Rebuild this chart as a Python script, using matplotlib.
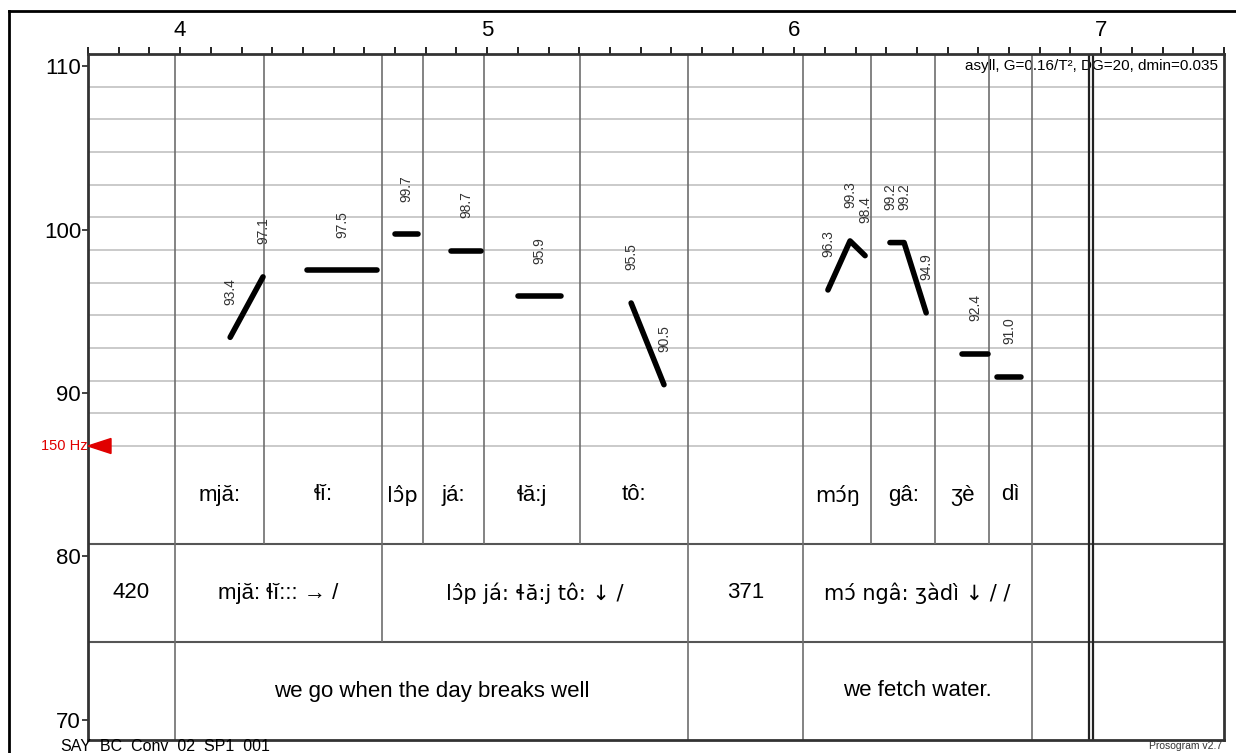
import unicodedata

import matplotlib
matplotlib.use("Agg")
import matplotlib.pyplot as plt
import numpy as np
from matplotlib.lines import Line2D
from matplotlib.patches import Polygon

plt.rcParams["font.family"] = ["Liberation Sans", "DejaVu Sans"]

# reference: 150 Hz in semitones re 1 Hz
ref_st = 12 * np.log2(150)

# syllable tier (boundaries in s, one text per interval)
syl_times = [3.983, 4.273, 4.658, 4.791, 4.990, 5.303, 5.654, 6.029, 6.251, 6.459, 6.635, 6.775]
syl_texts = ["mjă:", "ɬĭ:", "lɔ̂p", "já:", "ɬă:j", "tô:", "", "mɔ́ŋ", "gâ:", "ʒè", "dì"]

# phrase tier
phrase_times = [3.7, 3.983, 4.658, 5.654, 6.029, 6.775]
phrase_texts = ["420", "mjă: ɬĭ::: → /", "lɔ̂p já: ɬă:j tô: ↓ /", "371", "mɔ́ ngâ: ʒàdì ↓ / /"]

# translation tier
trans_times = [3.7, 3.983, 5.654, 6.029, 6.775]
trans_texts = ["", "we go when the day breaks well", "", "we fetch water."]

# end of signal (double line)
end_marks = [6.961, 6.974]

# stylized pitch contours: node times (s) and values (ST)
contour_t = [
    [4.163, 4.270],
    [4.413, 4.641],
    [4.700, 4.775],
    [4.882, 4.980],
    [5.101, 5.241],
    [5.469, 5.576],
    [6.110, 6.182, 6.231],
    [6.312, 6.358, 6.430],
    [6.547, 6.632],
    [6.661, 6.739],
]
contour_st = [
    [93.4, 97.1],
    [97.5, 97.5],
    [99.7, 99.7],
    [98.7, 98.7],
    [95.9, 95.9],
    [95.5, 90.5],
    [96.3, 99.3, 98.4],
    [99.2, 99.2, 94.9],
    [92.4, 92.4],
    [91.0, 91.0],
]


def tier_text(ax, x, y, txt):
    # combining accents only sit right in DejaVu (no mark positioning in Liberation)
    if any(unicodedata.combining(c) for c in txt):
        ax.text(x, y, txt, ha="center", va="center", fontsize=15, family=["DejaVu Sans"])
    else:
        ax.text(x, y, txt, ha="center", va="center", fontsize=16)


W, H = 1236, 753
fig = plt.figure(figsize=(W / 100, H / 100), dpi=100)
ax = fig.add_axes([88 / W, 1 - 740 / H, (1224 - 88) / W, (740 - 54) / H])
x0, x1 = 3.7, 7.4
y0, y1 = ref_st - 18, ref_st + 24
ax.set_xlim(x0, x1)
ax.set_ylim(y0, y1)

# horizontal grid every 2 ST above the 150 Hz line
for k in range(13):
    ax.axhline(ref_st + 2 * k, color="#c6c6c6", lw=1.3, zorder=1)
ax.axhline(ref_st - 6, color="#555555", lw=1.5, zorder=2)
ax.axhline(ref_st - 12, color="#555555", lw=1.5, zorder=2)

vcol = "#6e6e6e"
ax.vlines(syl_times, ref_st - 6, y1, color=vcol, lw=1.2, zorder=2)
ax.vlines(phrase_times[1:], ref_st - 12, ref_st - 6, color=vcol, lw=1.2, zorder=2)
ax.vlines(trans_times[1:], y0, ref_st - 12, color=vcol, lw=1.2, zorder=2)
ax.vlines(end_marks, y0, y1, color="#222222", lw=1.6, zorder=2)

# tier texts
for a, b, txt in zip(syl_times[:-1], syl_times[1:], syl_texts):
    tier_text(ax, (a + b) / 2, ref_st - 3, txt)
for a, b, txt in zip(phrase_times[:-1], phrase_times[1:], phrase_texts):
    tier_text(ax, (a + b) / 2, ref_st - 9, txt)
for a, b, txt in zip(trans_times[:-1], trans_times[1:], trans_texts):
    tier_text(ax, (a + b) / 2, ref_st - 15, txt)

# pitch contours with value labels
for t, v in zip(contour_t, contour_st):
    ax.plot(t, v, color="black", lw=4, solid_capstyle="round", solid_joinstyle="round", zorder=4)
    if len(set(v)) == 1:
        ax.text((t[0] + t[-1]) / 2, v[0] + 2.0, f"{v[0]:.1f}", rotation=90, ha="center", va="bottom",
                fontsize=10, color="#333333", zorder=3)
    else:
        for tt, vv in zip(t, v):
            ax.text(tt, vv + 2.0, f"{vv:.1f}", rotation=90, ha="center", va="bottom",
                    fontsize=10, color="#333333", zorder=3)

# 150 Hz marker
dx = 23 / 307
dy = 7.5 / 16.33
ax.add_patch(Polygon([[x0, ref_st], [x0 + dx, ref_st + dy], [x0 + dx, ref_st - dy]],
                     closed=True, color="#e00000", clip_on=False, zorder=5))
ax.text(x0, ref_st, "150 Hz", ha="right", va="center", color="#e00000", fontsize=10.5)

ax.text(7.382, 110.0, "asyll, G=0.16/T², DG=20, dmin=0.035", ha="right", va="center",
        fontsize=11, zorder=1.5)

# axes and ticks
ax.xaxis.tick_top()
ax.set_xticks([4, 5, 6, 7])
ax.set_xticks(np.arange(37, 75) / 10, minor=True)
ax.tick_params(axis="x", which="both", direction="out", length=5, width=1.4, labelsize=16, pad=4,
               top=True, bottom=False, color="#222222")
ax.set_yticks([70, 80, 90, 100, 110])
ax.tick_params(axis="y", direction="out", length=4, width=1.2, labelsize=16, pad=1, right=False,
               color="#222222")
for s in ax.spines.values():
    s.set_linewidth(2)
    s.set_color("#333333")

# outer frame (left and top)
fig.add_artist(Line2D([9 / W, 9 / W], [0, 1 - 11 / H], color="black", lw=2, transform=fig.transFigure))
fig.add_artist(Line2D([9 / W, 1], [1 - 11 / H, 1 - 11 / H], color="black", lw=2, transform=fig.transFigure))

fig.text(60 / W, 1 - 739 / H, "SAY_BC_Conv_02_SP1_001", ha="left", va="top", fontsize=11.5)
fig.text(1222 / W, 1 - 741 / H, "Prosogram v2.7", ha="right", va="top", fontsize=7.5, color="#333333")

fig.savefig("out.png", dpi=100)
